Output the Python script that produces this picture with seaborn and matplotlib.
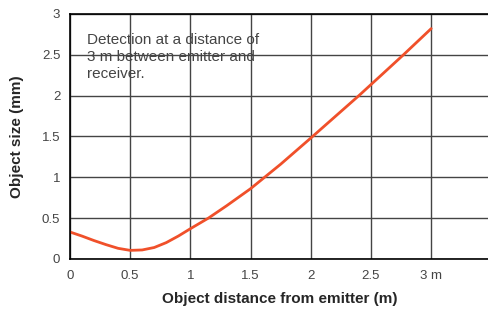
import numpy as np
import pandas as pd
import matplotlib.pyplot as plt
import seaborn as sns

# distance (m) vs min object size (mm)
distance = [0.0, 0.1, 0.2, 0.3, 0.4, 0.5, 0.6, 0.7, 0.8, 0.9, 1.0, 1.15, 1.3,
            1.5, 1.6, 1.75, 2.0, 2.2, 2.4, 2.6, 2.77, 3.0]
size_mm = [0.33, 0.28, 0.225, 0.175, 0.13, 0.105, 0.11, 0.14, 0.20, 0.28, 0.37,
           0.50, 0.65, 0.86, 0.98, 1.16, 1.48, 1.74, 2.00, 2.27, 2.50, 2.82]
x_ticks = [0, 0.5, 1, 1.5, 2, 2.5, 3]
x_labels = ["0", "0.5", "1", "1.5", "2", "2.5", "3 m"]
y_ticks = [0, 0.5, 1, 1.5, 2, 2.5, 3]
y_labels = ["0", "0.5", "1", "1.5", "2", "2.5", "3"]

sns.set_style("white")
plt.rcParams["font.family"] = ["Liberation Sans", "DejaVu Sans"]

df = pd.DataFrame({"d": distance, "s": size_mm})

fig = plt.figure(figsize=(4.89, 3.09), dpi=100)
ax = fig.add_axes([0.143, 0.162, 0.857, 0.793])

sns.lineplot(data=df, x="d", y="s", color="#f0502a", linewidth=2, ax=ax)

ax.set_xlim(0, 3.48)
ax.set_ylim(0, 3)
ax.set_xticks(x_ticks)
ax.set_xticklabels(x_labels)
ax.set_yticks(y_ticks)
ax.set_yticklabels(y_labels)
ax.tick_params(axis="x", length=0, labelsize=9.5, labelcolor="#444444", pad=8)
ax.tick_params(axis="y", length=0, labelsize=9.5, labelcolor="#444444", pad=7)
ax.grid(True, color="#444444", linewidth=1)
ax.set_axisbelow(True)

for side in ["left", "bottom", "top"]:
    ax.spines[side].set_color("black")
    ax.spines[side].set_linewidth(1.2)
ax.spines["right"].set_visible(False)

ax.set_xlabel("Object distance from emitter (m)", fontsize=11, fontweight="bold", labelpad=7)
ax.set_ylabel("Object size (mm)", fontsize=11, fontweight="bold", labelpad=13)

ax.text(0.14, 2.77, "Detection at a distance of\n3 m between emitter and\nreceiver.",
        fontsize=11, color="#444444", va="top", ha="left", linespacing=1.3)

fig.savefig("out.png", dpi=100, facecolor="white")
